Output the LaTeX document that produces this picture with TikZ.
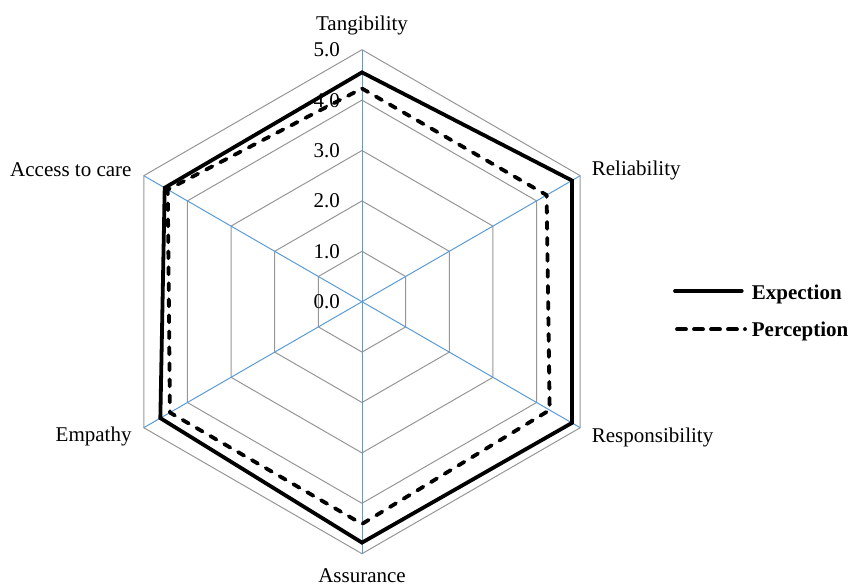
\documentclass[tikz,border=0pt]{standalone}
\usepackage{fontspec}
\setmainfont{Liberation Serif}
\definecolor{spoke}{RGB}{91,155,213}
\definecolor{ring}{RGB}{150,150,150}
\begin{document}
\begin{tikzpicture}[x=1pt,y=1pt,
  every node/.style={font=\fontsize{21}{24}\selectfont, inner sep=0pt},
  ringline/.style={draw=ring, line width=1pt},
  spokeline/.style={draw=spoke, line width=1pt},
  expline/.style={draw=black, line width=3.8pt, line join=miter},
  perline/.style={draw=black, line width=3.8pt, line cap=round, line join=round, dash pattern=on 7pt off 9pt},
  ticklabel/.style={anchor=base east},
  legtext/.style={anchor=base west, font=\fontsize{21}{24}\selectfont\bfseries}]
\useasboundingbox (-362,-284.3) rectangle (488,301.7);
\def\R{50.4}
% rings
\foreach \k in {1,...,5}{
  \draw[ringline] (90:\k*\R) -- (30:\k*\R) -- (-30:\k*\R) -- (-90:\k*\R) -- (210:\k*\R) -- (150:\k*\R) -- cycle;
}
% spokes
\coordinate (c) at (0,0);
\foreach \a/\n in {90/t,30/rel,-30/res,-90/as,210/em,150/ac}{
  \coordinate (o\n) at (\a:5*\R);
  \draw[spokeline] (c) -- (o\n);
}
% tick labels
\foreach \k in {0,...,5}{
  \node[ticklabel] (tk\k) at (-22,\k*\R-7) {\k.0};
}
% axis labels
\node[anchor=base] (lt) at (0,271) {Tangibility};
\node[anchor=base west] (lrel) at (229.7,125.7) {Reliability};
\node[anchor=base west] (lres) at (229.7,-141) {Responsibility};
\node[anchor=base] (las) at (0,-280.3) {Assurance};
\node[anchor=base east] (lem) at (-230.3,-139.3) {Empathy};
\node[anchor=base east] (lac) at (-230.3,125) {Access to care};
% expectation
\coordinate (e1) at (90:4.55*\R);
\coordinate (e2) at (30:4.81*\R);
\coordinate (e3) at (-30:4.81*\R);
\coordinate (e4) at (-90:4.78*\R);
\coordinate (e5) at (210:4.62*\R);
\coordinate (e6) at (150:4.52*\R);
\draw[expline] (e1) -- (e2) -- (e3) -- (e4) -- (e5) -- (e6) -- cycle;
% perception
\coordinate (p1) at (90:4.23*\R);
\coordinate (p2) at (30:4.23*\R);
\coordinate (p3) at (-30:4.30*\R);
\coordinate (p4) at (-90:4.41*\R);
\coordinate (p5) at (210:4.40*\R);
\coordinate (p6) at (150:4.45*\R);
\draw[perline] (p1) -- (p2) -- (p3) -- (p4) -- (p5) -- (p6) -- cycle;
% legend
\coordinate (l1a) at (313,10.7);
\coordinate (l1b) at (379.7,10.7);
\draw[draw=black, line width=3.8pt, line cap=round] (l1a) -- (l1b);
\node[legtext] (le) at (389.7,2.4) {Expection};
\coordinate (l2a) at (315,-27.6);
\coordinate (l2b) at (383,-27.6);
\draw[draw=black, line width=3.8pt, line cap=round, dash pattern=on 9pt off 8pt] (l2a) -- (l2b);
\node[legtext] (lp) at (389.7,-34.3) {Perception};
\end{tikzpicture}
\end{document}
